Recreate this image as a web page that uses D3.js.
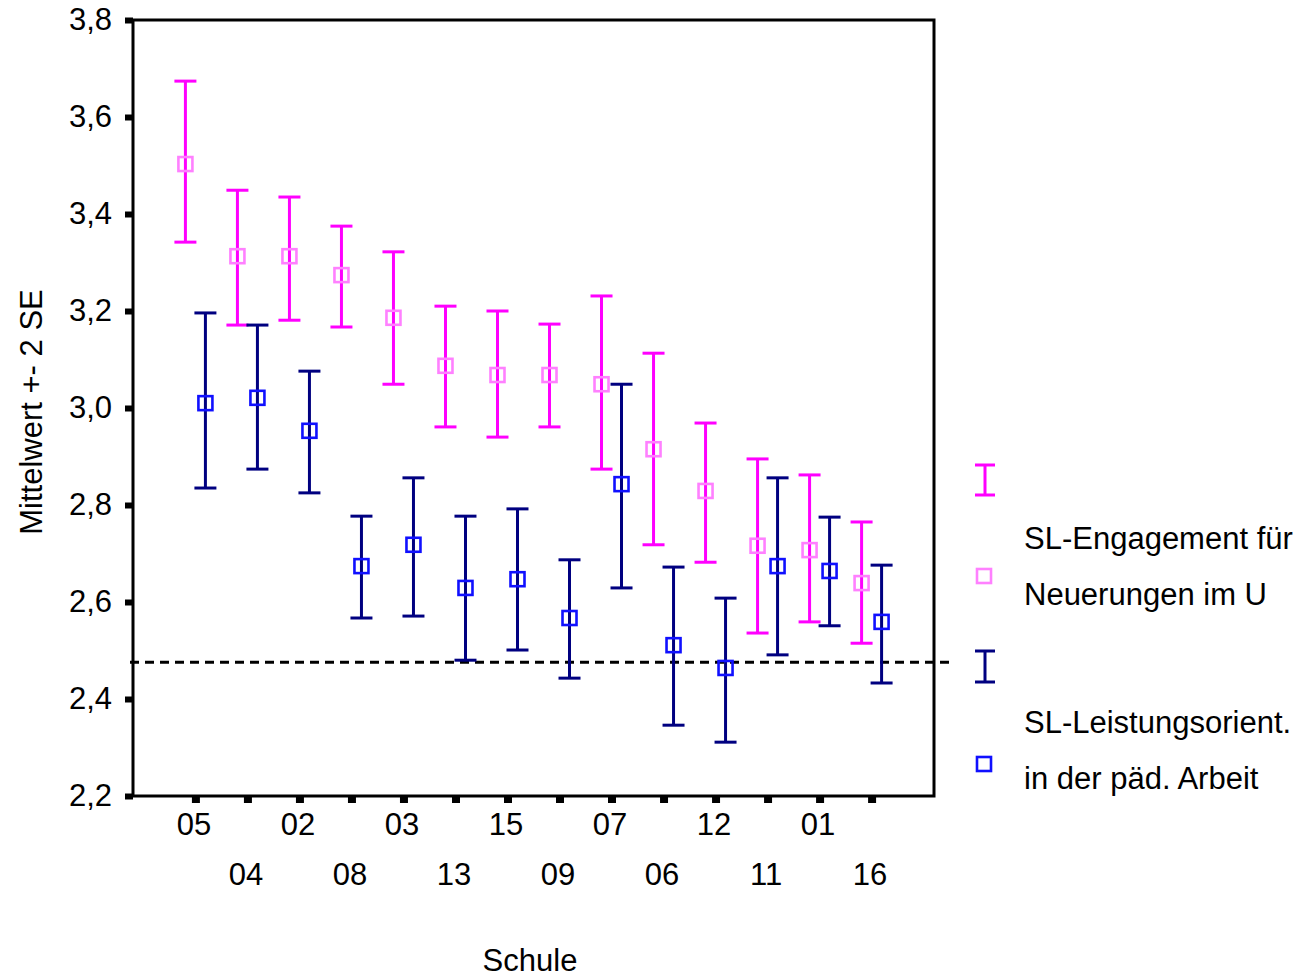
<!DOCTYPE html>
<html>
<head>
<meta charset="utf-8">
<script src="https://cdn.jsdelivr.net/npm/d3@7"></script>
<style>
  body { margin: 0; background: #fff; }
  svg { display: block; font-family: "Liberation Sans", Arial, sans-serif; }
</style>
</head>
<body>
<svg id="chart" width="1297" height="979"></svg>
<script>
const schools = ['05', '04', '02', '08', '03', '13', '15', '09', '07', '06', '12', '11', '01', '16'];

// SL-Engagement für Neuerungen im U
const engMean = [3.503, 3.313, 3.313, 3.274, 3.186, 3.087, 3.068, 3.068, 3.049, 2.915, 2.829, 2.716, 2.707, 2.639];
const engHigh = [3.674, 3.449, 3.435, 3.375, 3.322, 3.210, 3.200, 3.173, 3.231, 3.113, 2.969, 2.895, 2.862, 2.765];
const engLow  = [3.342, 3.171, 3.181, 3.167, 3.049, 2.961, 2.940, 2.961, 2.874, 2.718, 2.682, 2.536, 2.559, 2.515];

// SL-Leistungsorient. in der päd. Arbeit
const leiMean = [3.010, 3.021, 2.953, 2.674, 2.718, 2.629, 2.647, 2.567, 2.843, 2.511, 2.464, 2.674, 2.664, 2.559];
const leiHigh = [3.196, 3.171, 3.076, 2.777, 2.856, 2.777, 2.792, 2.687, 3.049, 2.672, 2.608, 2.856, 2.775, 2.676];
const leiLow  = [2.835, 2.874, 2.825, 2.567, 2.571, 2.480, 2.501, 2.443, 2.629, 2.346, 2.311, 2.491, 2.551, 2.433];

const refLine = 2.476;
const yTicks = [2.2, 2.4, 2.6, 2.8, 3.0, 3.2, 3.4, 3.6, 3.8];

const series = [
  { name: ['SL-Engagement für', 'Neuerungen im U'], mean: engMean, hi: engHigh, lo: engLow,
    bar: '#ff00ff', mark: '#ff80ff', off: -10 },
  { name: ['SL-Leistungsorient.', 'in der päd. Arbeit'], mean: leiMean, hi: leiHigh, lo: leiLow,
    bar: '#000080', mark: '#1010ff', off: 10 }
];

const svg = d3.select('#chart');
const pLeft = 133, pRight = 934, pTop = 20, pBottom = 796;
const fs = 31;

const x = d3.scalePoint().domain(schools).range([pLeft, pRight]).padding(1.2);
const y = d3.scaleLinear().domain([2.2, 3.8]).range([pBottom, pTop]);
const fmt = d3.formatLocale({ decimal: ',', thousands: '.', grouping: [3], currency: ['', '€'] }).format('.1f');

// frame
svg.append('rect')
  .attr('x', pLeft).attr('y', pTop)
  .attr('width', pRight - pLeft).attr('height', pBottom - pTop)
  .attr('fill', 'none').attr('stroke', '#000').attr('stroke-width', 3);

// y axis
const yAxis = svg.append('g')
  .attr('transform', `translate(${pLeft},0)`)
  .call(d3.axisLeft(y).tickValues(yTicks).tickFormat(fmt).tickSize(8).tickPadding(13));
yAxis.select('.domain').remove();
yAxis.selectAll('.tick line').attr('stroke', '#000').attr('stroke-width', 6);
yAxis.selectAll('.tick text').attr('font-size', fs).attr('fill', '#000')
  .attr('font-family', '"Liberation Sans", Arial, sans-serif');

// x axis
const xAxis = svg.append('g')
  .attr('transform', `translate(0,${pBottom})`)
  .call(d3.axisBottom(x).tickSize(7).tickPadding(0));
xAxis.select('.domain').remove();
xAxis.selectAll('.tick line').attr('stroke', '#000').attr('stroke-width', 8);
xAxis.selectAll('.tick text')
  .attr('font-size', fs).attr('fill', '#000')
  .attr('font-family', '"Liberation Sans", Arial, sans-serif')
  .attr('dy', null)
  .attr('x', -2)
  .attr('y', (d, i) => i % 2 === 0 ? 39 : 89);

// reference line
svg.append('line')
  .attr('x1', 130).attr('x2', 953)
  .attr('y1', y(refLine)).attr('y2', y(refLine))
  .attr('stroke', '#000').attr('stroke-width', 3)
  .attr('stroke-dasharray', '9,6');

// error bars + means
const capW = 11, sq = 14;
series.forEach(s => {
  const g = svg.append('g');
  const rows = schools.map((k, i) => ({ k, m: s.mean[i], hi: s.hi[i], lo: s.lo[i] }));
  const cx = d => x(d.k) + s.off;
  g.selectAll('line.v').data(rows).join('line')
    .attr('x1', cx).attr('x2', cx)
    .attr('y1', d => y(d.hi)).attr('y2', d => y(d.lo))
    .attr('stroke', s.bar).attr('stroke-width', 3);
  ['hi', 'lo'].forEach(key => {
    g.selectAll('line.' + key).data(rows).join(enter => enter.append('line').attr('class', key))
      .attr('x1', d => cx(d) - capW).attr('x2', d => cx(d) + capW)
      .attr('y1', d => y(d[key])).attr('y2', d => y(d[key]))
      .attr('stroke', s.bar).attr('stroke-width', 3);
  });
  g.selectAll('rect').data(rows).join('rect')
    .attr('x', d => cx(d) - sq / 2).attr('y', d => y(d.m) - sq / 2)
    .attr('width', sq).attr('height', sq)
    .attr('fill', 'none').attr('stroke', s.mark).attr('stroke-width', 2.6);
});

// legend
const leg = svg.append('g');
const legY = [[465, 495, 576, 549], [651, 682, 764, 733]];
series.forEach((s, i) => {
  const [t, b, m, ty] = legY[i];
  const lx = 985;
  leg.append('line').attr('x1', lx).attr('x2', lx).attr('y1', t).attr('y2', b)
    .attr('stroke', s.bar).attr('stroke-width', 3);
  [t, b].forEach(yy => leg.append('line')
    .attr('x1', lx - 10).attr('x2', lx + 10).attr('y1', yy).attr('y2', yy)
    .attr('stroke', s.bar).attr('stroke-width', 3));
  leg.append('rect').attr('x', lx - 8).attr('y', m - 7).attr('width', 14).attr('height', 14)
    .attr('fill', 'none').attr('stroke', s.mark).attr('stroke-width', 2.6);
  s.name.forEach((line, j) => leg.append('text')
    .attr('x', 1024).attr('y', ty + j * 56)
    .attr('font-size', fs).attr('fill', '#000').text(line));
});

// axis titles
svg.append('text')
  .attr('x', 530).attr('y', 971)
  .attr('text-anchor', 'middle').attr('font-size', fs).text('Schule');
svg.append('text')
  .attr('transform', 'translate(42,412) rotate(-90)')
  .attr('text-anchor', 'middle').attr('font-size', fs).text('Mittelwert +- 2 SE');
</script>
</body>
</html>
